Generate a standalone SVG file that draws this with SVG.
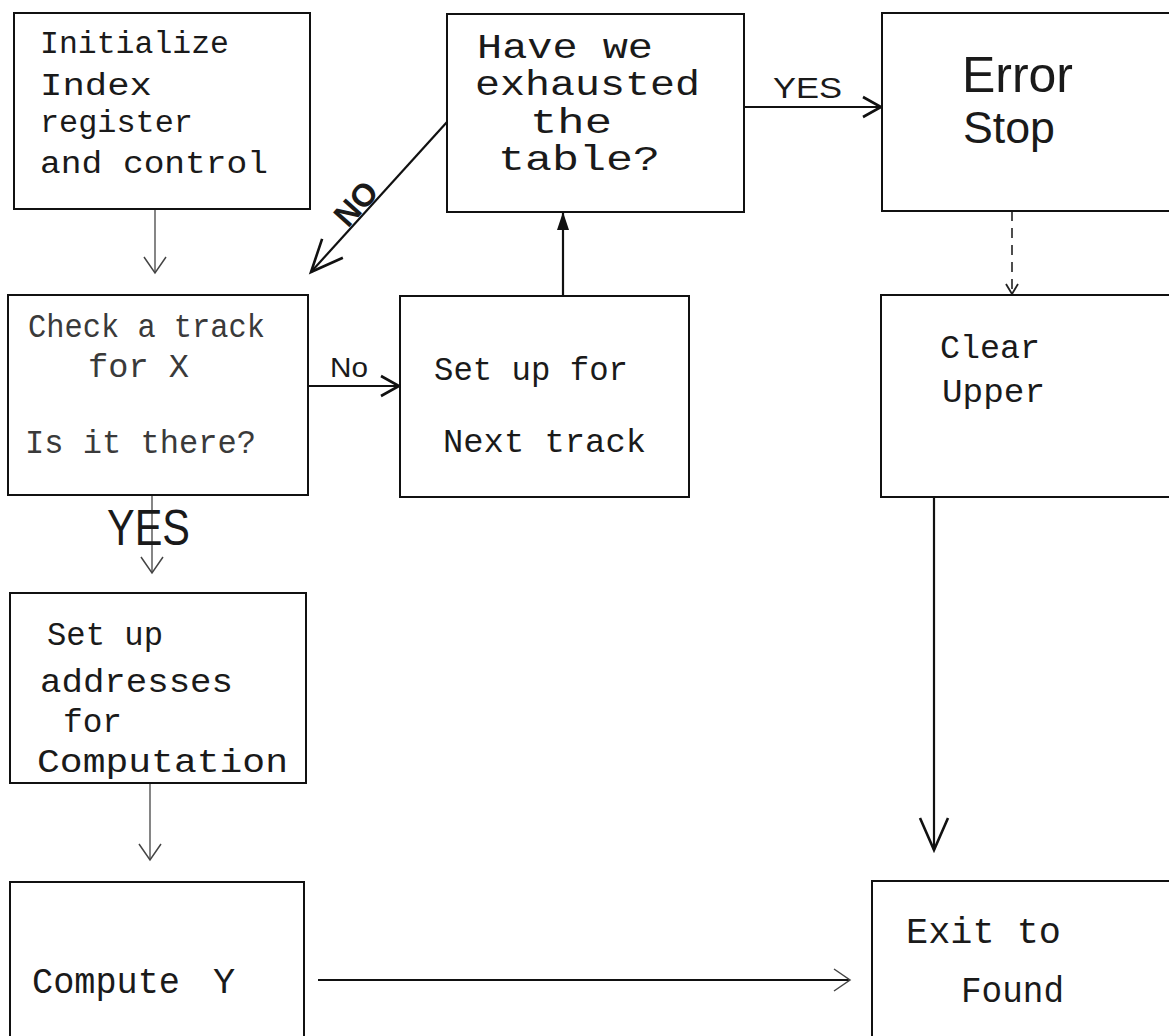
<svg xmlns="http://www.w3.org/2000/svg" width="1169" height="1036" viewBox="0 0 1169 1036">
<style>
.box{fill:#fff;stroke:#111;stroke-width:2}
.hm{font-family:"Liberation Mono","DejaVu Sans Mono",monospace;fill:#1a1a1a}
.hs{font-family:"Liberation Sans",Arial,sans-serif;fill:#1a1a1a}
.lt{fill:#3a3a3a}
.c{fill:none;stroke:#111;stroke-width:2.2}
.thin{fill:none;stroke:#444;stroke-width:1.3}
.dash{fill:none;stroke:#222;stroke-width:1.6;stroke-dasharray:10 7}
</style>
<defs>
<marker id="os" viewBox="0 0 18 24" refX="17" refY="12" markerWidth="18" markerHeight="24" markerUnits="userSpaceOnUse" orient="auto" overflow="visible"><path d="M1,1 L17,12 L1,23" fill="none" stroke="#444" stroke-width="1.5"/></marker>
<marker id="om" viewBox="0 0 20 22" refX="19" refY="11" markerWidth="20" markerHeight="22" markerUnits="userSpaceOnUse" orient="auto" overflow="visible"><path d="M1,1 L19,11 L1,21" fill="none" stroke="#111" stroke-width="2.6"/></marker>
<marker id="ol" viewBox="0 0 34 30" refX="33" refY="15" markerWidth="34" markerHeight="30" markerUnits="userSpaceOnUse" orient="auto" overflow="visible"><path d="M1,1 L33,15 L1,29" fill="none" stroke="#111" stroke-width="2.6"/></marker>
<marker id="ot" viewBox="0 0 12 14" refX="11" refY="7" markerWidth="12" markerHeight="14" markerUnits="userSpaceOnUse" orient="auto" overflow="visible"><path d="M1,1 L11,7 L1,13" fill="none" stroke="#222" stroke-width="1.8"/></marker>
<marker id="fl" viewBox="0 0 18 12" refX="17" refY="6" markerWidth="18" markerHeight="12" markerUnits="userSpaceOnUse" orient="auto" overflow="visible"><path d="M0,0 L18,6 L0,12 Z" fill="#111"/></marker>
</defs>
<rect x="0" y="0" width="1169" height="1036" fill="#fff"/>

<g id="connectors">
  <line id="c-init-check" class="thin" x1="155" y1="209" x2="155" y2="273" marker-end="url(#os)"/>
  <line id="c-exh-check" class="c" x1="447" y1="122" x2="311" y2="272" marker-end="url(#ol)"/>
  <text class="hs" font-size="32" font-weight="bold" x="364" y="211" text-anchor="middle" transform="rotate(-48 364 211)">NO</text>
  <line id="c-exh-error" class="c" x1="744" y1="107" x2="881" y2="107" marker-end="url(#om)"/>
  <text class="hs" font-size="30" x="773" y="98" textLength="69" lengthAdjust="spacingAndGlyphs">YES</text>
  <line id="c-next-exh" class="c" stroke-width="1.6" x1="563" y1="296" x2="563" y2="213" marker-end="url(#fl)"/>
  <line id="c-error-clear" class="dash" x1="1012" y1="211" x2="1012" y2="294" marker-end="url(#ot)"/>
  <line id="c-check-next" class="c" x1="308" y1="386" x2="399" y2="386" marker-end="url(#om)"/>
  <text class="hs" font-size="28" x="330" y="377" textLength="38" lengthAdjust="spacingAndGlyphs">No</text>
  <line id="c-check-addr" class="thin" x1="152" y1="495" x2="152" y2="573" marker-end="url(#os)"/>
  <text class="hs" font-size="50" x="107" y="545" textLength="83" lengthAdjust="spacingAndGlyphs">YES</text>
  <line id="c-addr-comp" class="thin" x1="150" y1="783" x2="150" y2="860" marker-end="url(#os)"/>
  <line id="c-clear-exit" class="c" stroke-width="2.6" x1="934" y1="497" x2="934" y2="850" marker-end="url(#ol)"/>
  <line id="c-comp-exit" class="c" stroke-width="2" stroke="#333" x1="318" y1="980" x2="850" y2="980" marker-end="url(#os)"/>
</g>

<g id="n-init">
  <rect class="box" x="14" y="13" width="296" height="196"/>
  <text class="hm" font-size="31" x="40" y="53" textLength="189" lengthAdjust="spacingAndGlyphs">Initialize</text>
  <text class="hm" font-size="31" x="40" y="95" textLength="112" lengthAdjust="spacingAndGlyphs">Index</text>
  <text class="hm" font-size="31" x="40" y="132" textLength="153" lengthAdjust="spacingAndGlyphs">register</text>
  <text class="hm" font-size="31" x="40" y="173" textLength="228" lengthAdjust="spacingAndGlyphs">and control</text>
</g>

<g id="n-exhausted">
  <rect class="box" x="447" y="14" width="297" height="198"/>
  <text class="hm" font-size="35" x="477" y="58" textLength="176" lengthAdjust="spacingAndGlyphs">Have we</text>
  <text class="hm" font-size="35" x="475" y="95" textLength="225" lengthAdjust="spacingAndGlyphs">exhausted</text>
  <text class="hm" font-size="35" x="530" y="133" textLength="82" lengthAdjust="spacingAndGlyphs">the</text>
  <text class="hm" font-size="35" x="498" y="170" textLength="162" lengthAdjust="spacingAndGlyphs">table?</text>
</g>

<g id="n-error">
  <rect class="box" x="882" y="13" width="300" height="198"/>
  <text class="hs" font-size="50" x="962" y="92" textLength="111" lengthAdjust="spacingAndGlyphs">Error</text>
  <text class="hs" font-size="45" x="963" y="143" textLength="92" lengthAdjust="spacingAndGlyphs">Stop</text>
</g>

<g id="n-check">
  <rect class="box" x="8" y="295" width="300" height="200"/>
  <text class="hm lt" font-size="33" x="28" y="337" textLength="237" lengthAdjust="spacingAndGlyphs">Check a track</text>
  <text class="hm lt" font-size="33" x="88" y="377" textLength="101" lengthAdjust="spacingAndGlyphs">for X</text>
  <text class="hm lt" font-size="33" x="25" y="453" textLength="231" lengthAdjust="spacingAndGlyphs">Is it there?</text>
</g>

<g id="n-next">
  <rect class="box" x="400" y="296" width="289" height="201"/>
  <text class="hm" font-size="33" x="434" y="380" textLength="194" lengthAdjust="spacingAndGlyphs">Set up for</text>
  <text class="hm" font-size="33" x="443" y="452" textLength="203" lengthAdjust="spacingAndGlyphs">Next track</text>
</g>

<g id="n-clear">
  <rect class="box" x="881" y="295" width="300" height="202"/>
  <text class="hm" font-size="33" x="940" y="358" textLength="100" lengthAdjust="spacingAndGlyphs">Clear</text>
  <text class="hm" font-size="33" x="942" y="402" textLength="103" lengthAdjust="spacingAndGlyphs">Upper</text>
</g>

<g id="n-addresses">
  <rect class="box" x="10" y="593" width="296" height="190"/>
  <text class="hm" font-size="33" x="47" y="645" textLength="116" lengthAdjust="spacingAndGlyphs">Set up</text>
  <text class="hm" font-size="34" x="40" y="692" textLength="193" lengthAdjust="spacingAndGlyphs">addresses</text>
  <text class="hm" font-size="34" x="63" y="732" textLength="59" lengthAdjust="spacingAndGlyphs">for</text>
  <text class="hm" font-size="34" x="37" y="772" textLength="251" lengthAdjust="spacingAndGlyphs">Computation</text>
</g>

<g id="n-compute">
  <rect class="box" x="10" y="882" width="294" height="160"/>
  <text class="hm" font-size="37" x="32" y="993"><tspan textLength="148" lengthAdjust="spacingAndGlyphs">Compute</tspan> <tspan x="213">Y</tspan></text>
</g>

<g id="n-exit">
  <rect class="box" x="872" y="881" width="310" height="160"/>
  <text class="hm" font-size="36" x="906" y="943" textLength="155" lengthAdjust="spacingAndGlyphs">Exit to</text>
  <text class="hm" font-size="36" x="961" y="1002" textLength="103" lengthAdjust="spacingAndGlyphs">Found</text>
</g>
</svg>
